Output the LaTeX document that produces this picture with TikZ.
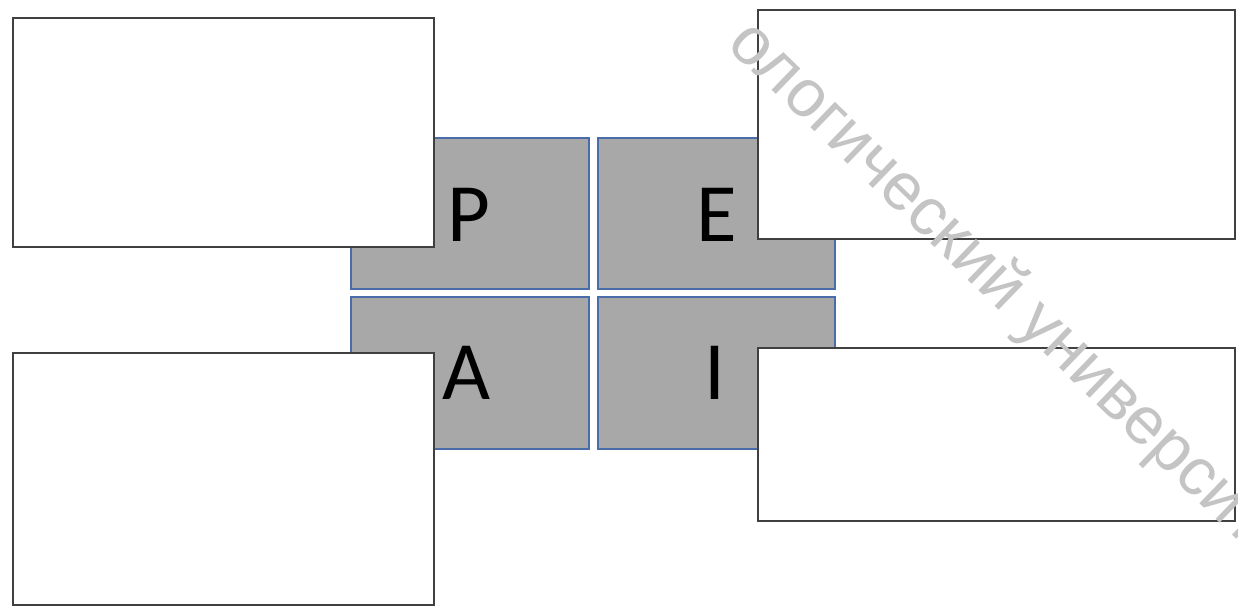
\documentclass[tikz,border=0pt]{standalone}
\usepackage{fontspec}
\setmainfont{Carlito}
\newfontfamily\wmfont{Liberation Sans}
\definecolor{quadgray}{HTML}{A8A8A8}
\definecolor{quadblue}{HTML}{4A6DAA}
\definecolor{boxline}{HTML}{404040}
\definecolor{wmgray}{HTML}{C4C4C4}
\begin{document}
\begin{tikzpicture}[x=1pt,y=-1pt,
  quad/.style={draw=quadblue,fill=quadgray,line width=1.6pt,inner sep=0pt,anchor=north west},
  card/.style={draw=boxline,fill=white,line width=1.6pt,inner sep=0pt,anchor=north west},
  letter/.style={font=\fontsize{83}{83}\selectfont,text=black,inner sep=0pt}]
\useasboundingbox (0,0) rectangle (1238,605);
\clip (0,0) rectangle (1238,605);
\fill[white] (0,0) rectangle (1238,605);
% gray quadrants
\node[quad,minimum width=238pt,minimum height=151pt] (qP) at (350,137) {};
\node[quad,minimum width=237pt,minimum height=151pt] (qE) at (597,137) {};
\node[quad,minimum width=238pt,minimum height=152pt] (qA) at (350,296) {};
\node[quad,minimum width=237pt,minimum height=152pt] (qI) at (597,296) {};
% white cards
\node[card,minimum width=421pt,minimum height=229pt] (cTL) at (12,17) {};
\node[card,minimum width=421pt,minimum height=252pt] (cBL) at (12,352) {};
\node[card,minimum width=477pt,minimum height=229pt] (cTR) at (757,9) {};
\node[card,minimum width=477pt,minimum height=173pt] (cBR) at (757,347) {};
% letters
\node[letter] (lP) at (469,215) {P};
\node[letter] (lE) at (717,215) {E};
\node[letter] (lA) at (467,373) {A};
\node[letter] (lI) at (715,373) {I};
% watermark
\node[text=wmgray,font=\wmfont\fontsize{67}{67}\selectfont,rotate=-44,inner sep=0pt] (wm) at (998,284) {ологический университ};
\end{tikzpicture}
\end{document}
